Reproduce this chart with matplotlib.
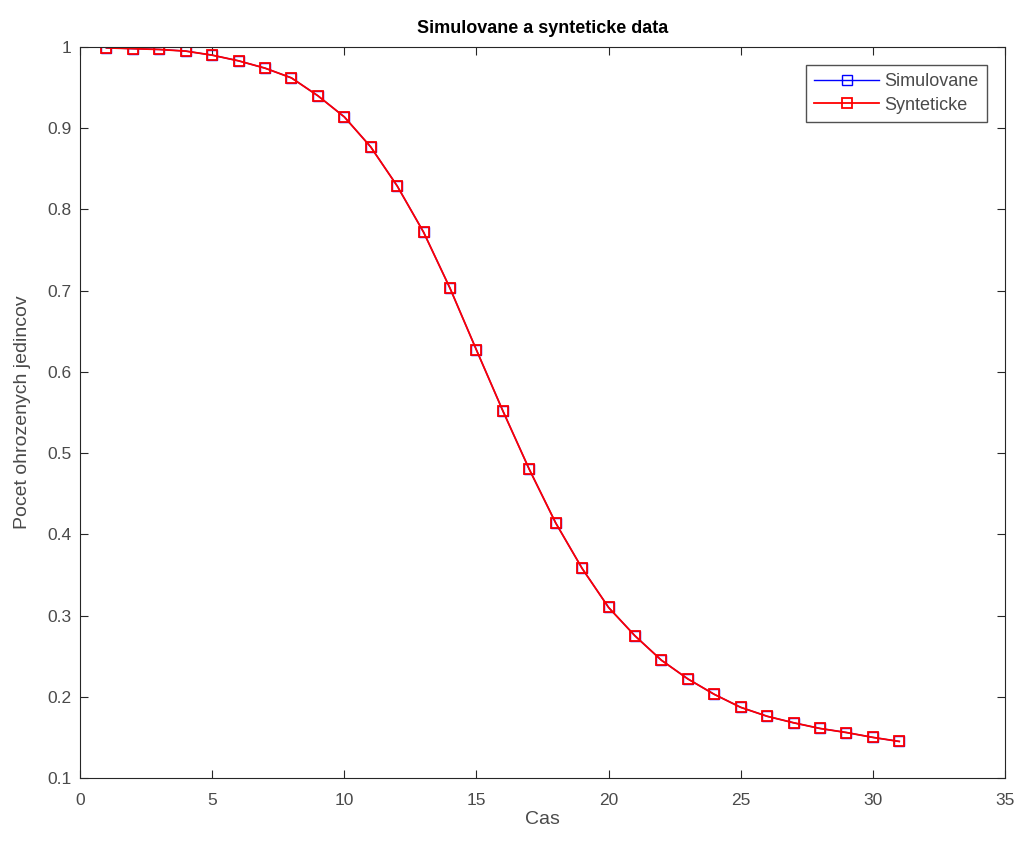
import matplotlib

matplotlib.use("Agg")

import matplotlib.pyplot as plt

plt.rcParams["font.family"] = ["Liberation Sans", "DejaVu Sans"]

time_steps = list(range(1, 32))
simulated = [0.999, 0.998, 0.997, 0.995, 0.990, 0.983, 0.974, 0.962, 0.940, 0.914,
             0.877, 0.829, 0.772, 0.703, 0.627, 0.552, 0.480, 0.414, 0.358, 0.310,
             0.275, 0.245, 0.222, 0.203, 0.187, 0.176, 0.168, 0.161, 0.156, 0.150, 0.145]
synthetic = [0.999, 0.998, 0.997, 0.995, 0.990, 0.983, 0.974, 0.962, 0.940, 0.914,
             0.877, 0.829, 0.772, 0.703, 0.627, 0.552, 0.480, 0.414, 0.358, 0.310,
             0.275, 0.245, 0.222, 0.203, 0.187, 0.176, 0.168, 0.161, 0.156, 0.150, 0.145]
x_ticks = [0, 5, 10, 15, 20, 25, 30, 35]
y_ticks = [0.1, 0.2, 0.3, 0.4, 0.5, 0.6, 0.7, 0.8, 0.9, 1]
y_tick_labels = ["0.1", "0.2", "0.3", "0.4", "0.5", "0.6", "0.7", "0.8", "0.9", "1"]

text_gray = "#4a4a4a"

fig = plt.figure(figsize=(10.21, 8.43), dpi=100)
ax = fig.add_axes([0.0784, 0.0771, 0.9059, 0.8671])

ax.plot(time_steps, simulated, color="blue", marker="s", markerfacecolor="none",
        markersize=7.5, linewidth=1.0, markeredgewidth=1.0, label="Simulovane")
ax.plot(time_steps, synthetic, color="red", marker="s", markerfacecolor="none",
        markersize=7.5, linewidth=1.3, markeredgewidth=1.3, label="Synteticke")

ax.set_xlim(0, 35)
ax.set_ylim(0.1, 1)
ax.set_xticks(x_ticks)
ax.set_yticks(y_ticks)
ax.set_yticklabels(y_tick_labels)
ax.tick_params(direction="in", top=True, right=True, labelsize=12.5, length=6,
               color="#262626", labelcolor=text_gray)
ax.tick_params(axis="x", pad=11)
ax.tick_params(axis="y", pad=6)
for spine in ax.spines.values():
    spine.set_color("#262626")

ax.set_title("Simulovane a synteticke data", fontsize=13, fontweight="bold", pad=10)
ax.set_xlabel("Cas", fontsize=14, color=text_gray, labelpad=2)
ax.set_ylabel("Pocet ohrozenych jedincov", fontsize=14, color=text_gray, labelpad=12)

leg = ax.legend(loc="upper right", fontsize=13, fancybox=False, edgecolor="#262626",
                borderaxespad=1.0, handlelength=3.6, handletextpad=0.3,
                borderpad=0.45, labelspacing=0.35)
leg.get_frame().set_linewidth(1.0)
for text in leg.get_texts():
    text.set_color(text_gray)

fig.savefig("out.png", dpi=100)
plt.close(fig)
